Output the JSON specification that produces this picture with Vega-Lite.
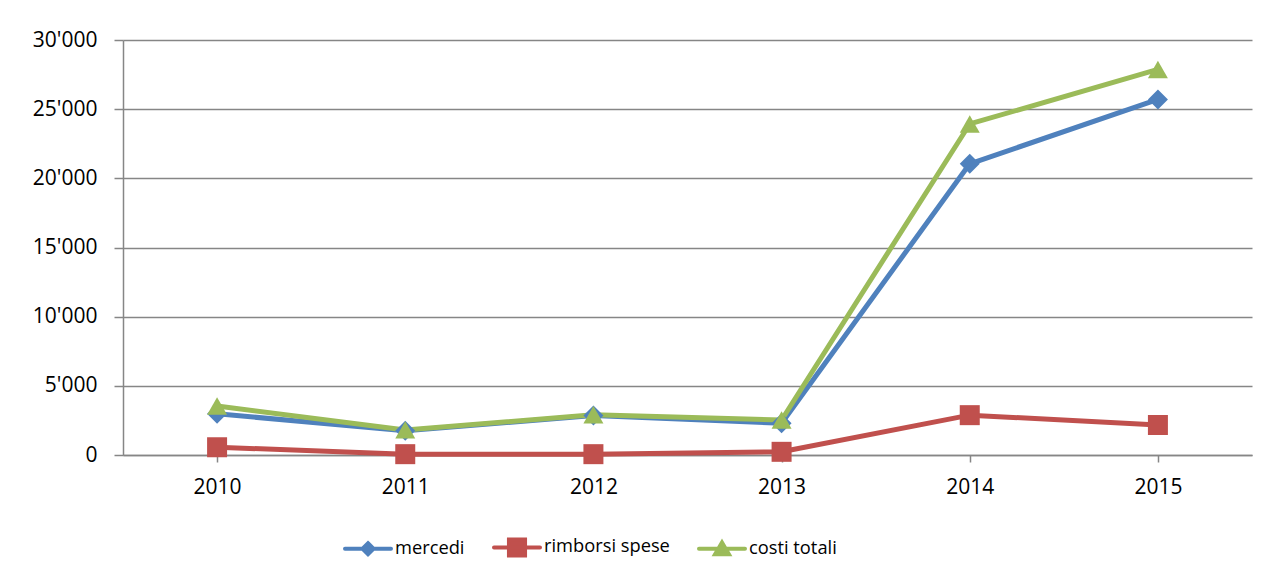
{
  "$schema": "https://vega.github.io/schema/vega-lite/v6.json",
  "autosize": {"type": "none"},
  "width": 1129,
  "height": 415,
  "padding": {"left": 123, "top": 40, "right": 19, "bottom": 123},
  "background": "white",
  "config": {
    "view": {"stroke": null},
    "font": "Open Sans"
  },
  "data": {
    "values": [
      {"anno": "2010", "serie": "mercedi", "valore": 2980},
      {"anno": "2011", "serie": "mercedi", "valore": 1750},
      {"anno": "2012", "serie": "mercedi", "valore": 2850},
      {"anno": "2013", "serie": "mercedi", "valore": 2300},
      {"anno": "2014", "serie": "mercedi", "valore": 21050},
      {"anno": "2015", "serie": "mercedi", "valore": 25700},
      {"anno": "2010", "serie": "rimborsi spese", "valore": 560},
      {"anno": "2011", "serie": "rimborsi spese", "valore": 60},
      {"anno": "2012", "serie": "rimborsi spese", "valore": 60},
      {"anno": "2013", "serie": "rimborsi spese", "valore": 230},
      {"anno": "2014", "serie": "rimborsi spese", "valore": 2880},
      {"anno": "2015", "serie": "rimborsi spese", "valore": 2170},
      {"anno": "2010", "serie": "costi totali", "valore": 3540},
      {"anno": "2011", "serie": "costi totali", "valore": 1810},
      {"anno": "2012", "serie": "costi totali", "valore": 2910},
      {"anno": "2013", "serie": "costi totali", "valore": 2530},
      {"anno": "2014", "serie": "costi totali", "valore": 23930},
      {"anno": "2015", "serie": "costi totali", "valore": 27870}
    ]
  },
  "encoding": {
    "x": {
      "field": "anno", "type": "ordinal",
      "scale": {"type": "point", "padding": 0.5},
      "axis": {
        "title": null, "labelAngle": 0, "labelFont": "Open Sans", "labelFontSize": 21, "labelColor": "#000000",
        "domainColor": "#868686", "domainWidth": 1.5, "tickColor": "#868686", "tickWidth": 1.5, "tickSize": 7,
        "labelPadding": 14, "grid": false
      }
    },
    "y": {
      "field": "valore", "type": "quantitative",
      "scale": {"domain": [0, 30000], "nice": false},
      "axis": {
        "title": null, "values": [0, 5000, 10000, 15000, 20000, 25000, 30000],
        "labelExpr": "replace(format(datum.value, ','), ',', \"'\")",
        "labelFont": "Open Sans", "labelFontSize": 21, "labelColor": "#000000",
        "domainColor": "#868686", "domainWidth": 1.5, "tickColor": "#868686", "tickWidth": 1.5, "tickSize": 9,
        "labelPadding": 17, "grid": true, "gridColor": "#868686", "gridWidth": 1.5
      }
    },
    "color": {
      "field": "serie", "type": "nominal",
      "scale": {"domain": ["mercedi", "rimborsi spese", "costi totali"], "range": ["#4F81BD", "#C0504D", "#9BBB59"]},
      "legend": {
        "title": null, "orient": "none", "direction": "horizontal", "legendX": 220, "legendY": 482,
        "labelFont": "Open Sans", "labelFontSize": 18.3, "labelColor": "#000000",
        "symbolSize": 2116, "labelOffset": 2, "columnPadding": 21, "symbolStrokeWidth": 4,
        "encode": {
          "symbols": {
            "update": {
              "shape": {"signal": "datum.value === 'mercedi' ? 'M-1,0L1,0M0,-0.24L0.24,0L0,0.24L-0.24,0Z' : (datum.value === 'rimborsi spese' ? 'M-1,0L1,0M-0.35,-0.35L0.35,-0.35L0.35,0.35L-0.35,0.35Z' : 'M-1,0L1,0M0,-0.27L0.3,0.24L-0.3,0.24Z')"},
              "fill": {"signal": "datum.value === 'mercedi' ? '#4F81BD' : (datum.value === 'rimborsi spese' ? '#C0504D' : '#9BBB59')"},
              "stroke": {"signal": "datum.value === 'mercedi' ? '#4F81BD' : (datum.value === 'rimborsi spese' ? '#C0504D' : '#9BBB59')"},
              "strokeWidth": {"value": 4},
              "strokeCap": {"value": "round"},
              "opacity": {"value": 1}
            }
          }
        }
      }
    }
  },
  "layer": [
    {
      "mark": {"type": "line", "strokeWidth": 5, "strokeCap": "round", "strokeJoin": "round"}
    },
    {
      "transform": [{"filter": "datum.serie === 'mercedi'"}],
      "mark": {"type": "point", "filled": true, "opacity": 1, "size": 400, "shape": "diamond"}
    },
    {
      "transform": [{"filter": "datum.serie === 'rimborsi spese'"}],
      "mark": {"type": "point", "filled": true, "opacity": 1, "size": 400, "shape": "square"}
    },
    {
      "transform": [{"filter": "datum.serie === 'costi totali'"}],
      "mark": {"type": "point", "filled": true, "opacity": 1, "size": 400, "shape": "triangle-up"}
    }
  ]
}
